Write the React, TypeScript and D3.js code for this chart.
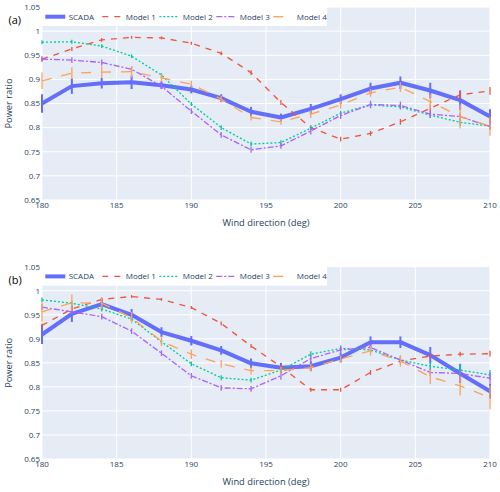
import React from "react";
import * as d3 from "d3";

const windDir = [180, 182, 184, 186, 188, 190, 192, 194, 196, 198, 200, 202, 204, 206, 208, 210];
const xTicks = [180, 185, 190, 195, 200, 205, 210];
const yTicks = [0.65, 0.7, 0.75, 0.8, 0.85, 0.9, 0.95, 1, 1.05];
const seriesNames = ["SCADA", "Model 1", "Model 2", "Model 3", "Model 4"];

// Panel (a)
const scadaA = [0.850, 0.886, 0.892, 0.894, 0.888, 0.879, 0.861, 0.833, 0.821, 0.839, 0.859, 0.881, 0.893, 0.877, 0.857, 0.823];
const model1A = [0.942, 0.963, 0.982, 0.987, 0.986, 0.975, 0.954, 0.914, 0.852, 0.800, 0.776, 0.788, 0.812, 0.840, 0.868, 0.876];
const model2A = [0.977, 0.978, 0.969, 0.948, 0.909, 0.849, 0.800, 0.766, 0.769, 0.799, 0.830, 0.847, 0.843, 0.826, 0.811, 0.803];
const model3A = [0.942, 0.940, 0.935, 0.921, 0.886, 0.834, 0.785, 0.754, 0.762, 0.793, 0.825, 0.848, 0.846, 0.828, 0.823, 0.802];
const model4A = [0.897, 0.913, 0.915, 0.916, 0.903, 0.890, 0.859, 0.821, 0.812, 0.828, 0.847, 0.872, 0.884, 0.854, 0.823, 0.803];
const errScadaA = [0.019, 0.016, 0.011, 0.014, 0.008, 0.008, 0.008, 0.010, 0.008, 0.010, 0.010, 0.012, 0.013, 0.016, 0.020, 0.015];
const errM1A = [0.004, 0.004, 0.004, 0.003, 0.003, 0.003, 0.004, 0.005, 0.005, 0.005, 0.005, 0.005, 0.006, 0.008, 0.009, 0.008];
const errM2A = [0.004, 0.004, 0.004, 0.004, 0.004, 0.004, 0.005, 0.005, 0.005, 0.005, 0.005, 0.005, 0.005, 0.006, 0.007, 0.006];
const errM3A = [0.006, 0.006, 0.006, 0.006, 0.006, 0.006, 0.006, 0.006, 0.006, 0.007, 0.007, 0.008, 0.008, 0.008, 0.008, 0.007];
const errM4A = [0.017, 0.012, 0.012, 0.012, 0.008, 0.007, 0.007, 0.006, 0.006, 0.008, 0.008, 0.008, 0.010, 0.015, 0.025, 0.020];

// Panel (b)
const scadaB = [0.909, 0.952, 0.972, 0.950, 0.914, 0.896, 0.876, 0.849, 0.840, 0.843, 0.861, 0.893, 0.893, 0.866, 0.828, 0.791];
const model1B = [0.928, 0.962, 0.982, 0.988, 0.982, 0.965, 0.932, 0.885, 0.842, 0.794, 0.794, 0.830, 0.854, 0.864, 0.868, 0.869];
const model2B = [0.981, 0.974, 0.962, 0.941, 0.894, 0.848, 0.819, 0.814, 0.835, 0.868, 0.880, 0.877, 0.856, 0.843, 0.835, 0.825];
const model3B = [0.966, 0.956, 0.946, 0.916, 0.870, 0.823, 0.798, 0.796, 0.823, 0.859, 0.877, 0.882, 0.856, 0.830, 0.828, 0.818];
const model4B = [0.956, 0.975, 0.974, 0.944, 0.895, 0.868, 0.848, 0.834, 0.834, 0.840, 0.858, 0.875, 0.854, 0.821, 0.802, 0.778];
const errScadaB = [0.020, 0.017, 0.012, 0.012, 0.010, 0.010, 0.009, 0.010, 0.010, 0.010, 0.010, 0.012, 0.012, 0.017, 0.020, 0.015];
const errM1B = [0.004, 0.004, 0.004, 0.003, 0.003, 0.003, 0.004, 0.004, 0.004, 0.004, 0.004, 0.005, 0.005, 0.005, 0.005, 0.006];
const errM2B = [0.005, 0.005, 0.005, 0.005, 0.005, 0.005, 0.005, 0.005, 0.006, 0.006, 0.006, 0.006, 0.006, 0.008, 0.012, 0.010];
const errM3B = [0.006, 0.006, 0.006, 0.006, 0.006, 0.006, 0.006, 0.006, 0.008, 0.008, 0.008, 0.008, 0.008, 0.008, 0.008, 0.012];
const errM4B = [0.020, 0.017, 0.012, 0.012, 0.010, 0.010, 0.008, 0.008, 0.008, 0.008, 0.008, 0.010, 0.012, 0.015, 0.020, 0.025];

const styles = [
  { color: "#636efa", width: 4, dash: "", errW: 2 },
  { color: "#EF553B", width: 1.33, dash: "6,6", errW: 1.3 },
  { color: "#00cc96", width: 1.33, dash: "2,2", errW: 1.3 },
  { color: "#ab63fa", width: 1.33, dash: "6,2,2,2", errW: 1.3 },
  { color: "#FFA15A", width: 1.33, dash: "10,10", errW: 1.3 },
];

const FONT = "'Open Sans', Verdana, Arial, sans-serif";
const TXT = "#2a3f5f";
const X0 = 42;
const X1 = 490;

type PanelProps = {
  top: number;
  bottom: number;
  label: string;
  values: number[][];
  errors: number[][];
};

function Panel({ top, bottom, label, values, errors }: PanelProps) {
  const x = d3.scaleLinear().domain([180, 210]).range([X0, X1]);
  const y = d3.scaleLinear().domain([0.65, 1.05]).range([bottom, top]);
  const line = d3
    .line<number>()
    .x((_, i) => x(windDir[i]))
    .y((d) => y(d));
  const legendH = 19;
  const itemW = 57;
  return (
    <g>
      <rect x={X0} y={top} width={X1 - X0} height={bottom - top} fill="#E5ECF6" />
      {xTicks.map((t) => (
        <line key={"gx" + t} x1={x(t)} x2={x(t)} y1={top} y2={bottom} stroke="#fff" strokeWidth={1} />
      ))}
      {yTicks.map((t) => (
        <line key={"gy" + t} x1={X0} x2={X1} y1={y(t)} y2={y(t)} stroke="#fff" strokeWidth={1} />
      ))}
      {values.map((vals, si) => {
        const s = styles[si];
        return (
          <g key={"s" + si}>
            <path
              d={line(vals) || ""}
              fill="none"
              stroke={s.color}
              strokeWidth={s.width}
              strokeDasharray={s.dash}
              strokeLinejoin="round"
            />
            {vals.map((v, i) => (
              <line
                key={i}
                x1={x(windDir[i])}
                x2={x(windDir[i])}
                y1={y(v - errors[si][i])}
                y2={y(v + errors[si][i])}
                stroke={s.color}
                strokeWidth={s.errW}
              />
            ))}
          </g>
        );
      })}
      {/* legend */}
      <rect x={X0} y={top} width={itemW * 5} height={legendH} fill="#fff" />
      {seriesNames.map((n, i) => {
        const s = styles[i];
        const lx = X0 + i * itemW;
        const ly = top + 9.7;
        return (
          <g key={"l" + i}>
            <line x1={lx + 3.3} x2={lx + 23.3} y1={ly} y2={ly} stroke={s.color} strokeWidth={s.width} strokeDasharray={s.dash} />
            <text x={lx + 26.7} y={ly} dy="0.35em" fontSize={8} fill={TXT} fontFamily={FONT}>
              {n}
            </text>
          </g>
        );
      })}
      {/* ticks */}
      {yTicks.map((t) => (
        <text key={"ty" + t} x={40} y={y(t)} dy="0.35em" textAnchor="end" fontSize={8} fill={TXT} fontFamily={FONT}>
          {d3.format("")(t)}
        </text>
      ))}
      {xTicks.map((t) => (
        <text key={"tx" + t} x={x(t)} y={bottom + 5.5} dy="0.35em" textAnchor="middle" fontSize={8} fill={TXT} fontFamily={FONT}>
          {t}
        </text>
      ))}
      <text
        x={(X0 + X1) / 2}
        y={bottom + 23}
        dy="0.35em"
        textAnchor="middle"
        fontSize={9.3}
        fill={TXT}
        fontFamily={FONT}
      >
        Wind direction (deg)
      </text>
      <text
        transform={`translate(8.5,${(top + bottom) / 2}) rotate(-90)`}
        dy="0.35em"
        textAnchor="middle"
        fontSize={9.3}
        fill={TXT}
        fontFamily={FONT}
      >
        Power ratio
      </text>
      <text x={8.5} y={top + 13} dy="0.35em" fontSize={11} fill="#000" fontFamily={FONT}>
        {label}
      </text>
    </g>
  );
}

export default function App() {
  return (
    <svg
      width={500}
      height={492}
      style={{ position: "absolute", left: 0, top: 0, background: "#fff" }}
    >
      <rect x={0} y={0} width={500} height={492} fill="#fff" />
      <Panel
        top={7}
        bottom={200}
        label="(a)"
        values={[scadaA, model1A, model2A, model3A, model4A]}
        errors={[errScadaA, errM1A, errM2A, errM3A, errM4A]}
      />
      <Panel
        top={266.7}
        bottom={459}
        label="(b)"
        values={[scadaB, model1B, model2B, model3B, model4B]}
        errors={[errScadaB, errM1B, errM2B, errM3B, errM4B]}
      />
    </svg>
  );
}
